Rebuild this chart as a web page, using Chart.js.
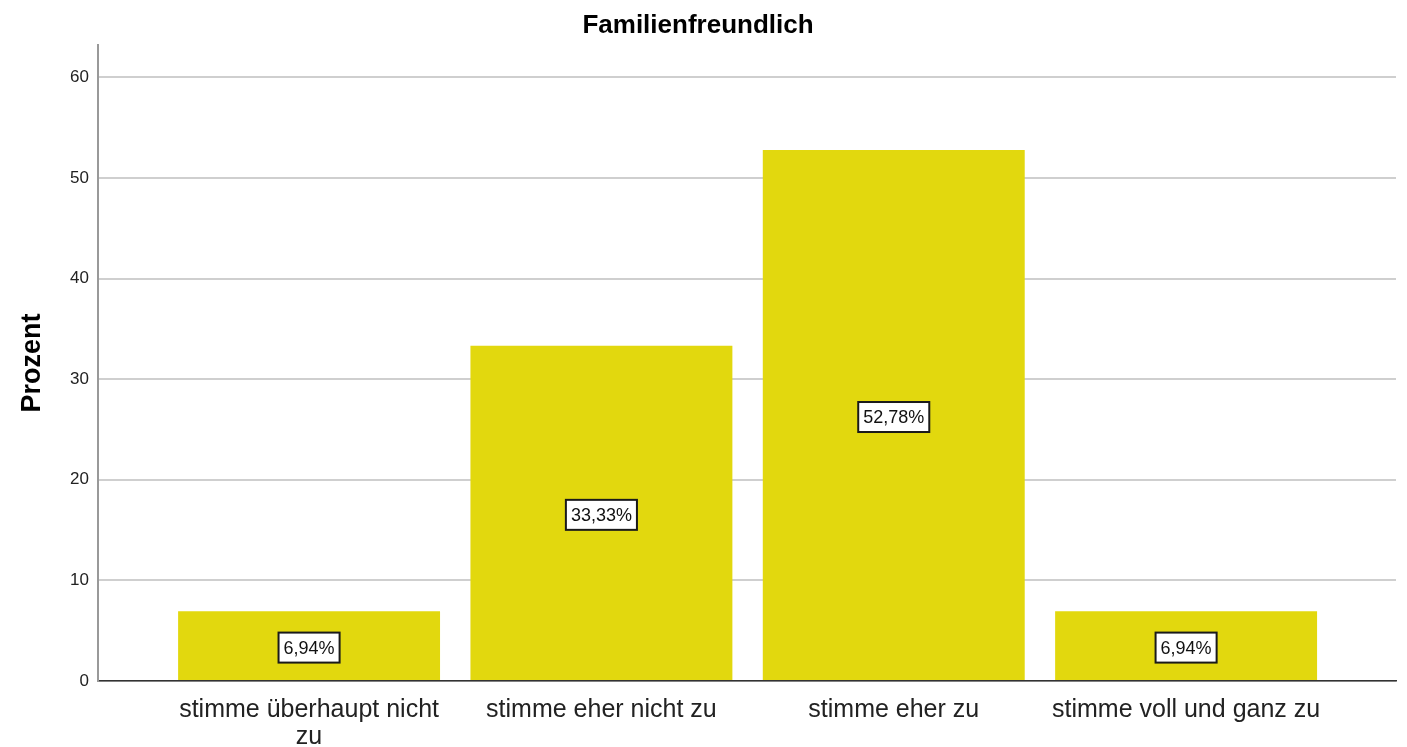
<!DOCTYPE html>
<html>
<head>
<meta charset="utf-8">
<script src="https://cdn.jsdelivr.net/npm/chart.js@4"></script>
<style>
  html, body { margin: 0; padding: 0; background: #fff; }
  #wrap { width: 1407px; height: 747px; }
</style>
</head>
<body>
<div id="wrap"><canvas id="barChart" width="1407" height="747"></canvas></div>
<script>
// data
const categories = ['stimme überhaupt nicht zu', 'stimme eher nicht zu', 'stimme eher zu', 'stimme voll und ganz zu'];
const percents = [6.94, 33.33, 52.78, 6.94];
const yTicks = [0, 10, 20, 30, 40, 50, 60];

const FONT = "'Liberation Sans', Arial, sans-serif";

// break long category names onto two lines
function wrapLabel(text, maxChars) {
    if (text.length <= maxChars) return text;
    const cut = text.lastIndexOf(' ', maxChars);
    return [text.slice(0, cut), text.slice(cut + 1)];
}

// white boxed value label in the middle of each bar
const valueBoxes = {
    id: 'valueBoxes',
    afterDatasetsDraw(chart) {
        const ctx = chart.ctx;
        const meta = chart.getDatasetMeta(0);
        ctx.save();
        ctx.font = '18px ' + FONT;
        ctx.textAlign = 'center';
        ctx.textBaseline = 'middle';
        meta.data.forEach((bar, i) => {
            const txt = percents[i].toFixed(2).replace('.', ',') + '%';
            const w = ctx.measureText(txt).width + 10;
            const h = 30;
            const cx = bar.x;
            const cy = (bar.y + bar.base) / 2 + 2;
            ctx.fillStyle = '#fff';
            ctx.fillRect(cx - w / 2, cy - h / 2, w, h);
            ctx.strokeStyle = '#1a1a1a';
            ctx.lineWidth = 2;
            ctx.strokeRect(cx - w / 2, cy - h / 2, w, h);
            ctx.fillStyle = '#111';
            ctx.fillText(txt, cx, cy + 1);
        });
        ctx.restore();
    }
};

const ctx = document.getElementById('barChart').getContext('2d');
const barChart = new Chart(ctx, {
    type: 'bar',
    data: {
        datasets: [{
            data: percents.map((v, i) => ({ x: i + 1, y: v })),
            backgroundColor: 'rgb(226, 216, 14)',
            borderWidth: 0,
            barPercentage: 0.896,
            categoryPercentage: 1
        }]
    },
    options: {
        responsive: false,
        animation: false,
        layout: { padding: { left: 0, right: 11, top: 0, bottom: 0 } },
        plugins: {
            legend: { display: false },
            tooltip: { enabled: false },
            title: {
                display: true,
                text: 'Familienfreundlich',
                color: '#000',
                font: { family: FONT, size: 26, weight: 'bold', lineHeight: 1.2 },
                padding: { top: 10, bottom: 4 }
            }
        },
        scales: {
            x: {
                type: 'linear',
                offset: false,
                min: 0.278,
                max: 4.718,
                afterBuildTicks(scale) {
                    scale.ticks = categories.map((c, i) => ({ value: i + 1 }));
                },
                afterFit(scale) { scale.height = 66; },
                grid: { display: false, drawTicks: false, offset: false },
                border: { display: true, color: '#333', width: 1.5 },
                ticks: {
                    autoSkip: false,
                    maxRotation: 0,
                    padding: 16,
                    color: '#222',
                    font: { family: FONT, size: 25, lineHeight: 1.08 },
                    callback: (value) => wrapLabel(categories[Math.round(value) - 1], 24)
                }
            },
            y: {
                min: 0,
                max: 63.2,
                afterBuildTicks(scale) {
                    scale.ticks = yTicks.map(v => ({ value: v }));
                },
                afterFit(scale) { scale.width = 98; },
                grid: { color: '#cfcfcf', lineWidth: 2, drawTicks: false },
                border: { display: true, color: '#999', width: 2 },
                ticks: {
                    padding: 9,
                    color: '#222',
                    font: { family: FONT, size: 17 }
                },
                title: {
                    display: true,
                    text: 'Prozent',
                    color: '#000',
                    font: { family: FONT, size: 27, weight: 'bold', lineHeight: 1.2 },
                    padding: { top: 16, bottom: 0 }
                }
            }
        }
    },
    plugins: [valueBoxes]
});
</script>
</body>
</html>
